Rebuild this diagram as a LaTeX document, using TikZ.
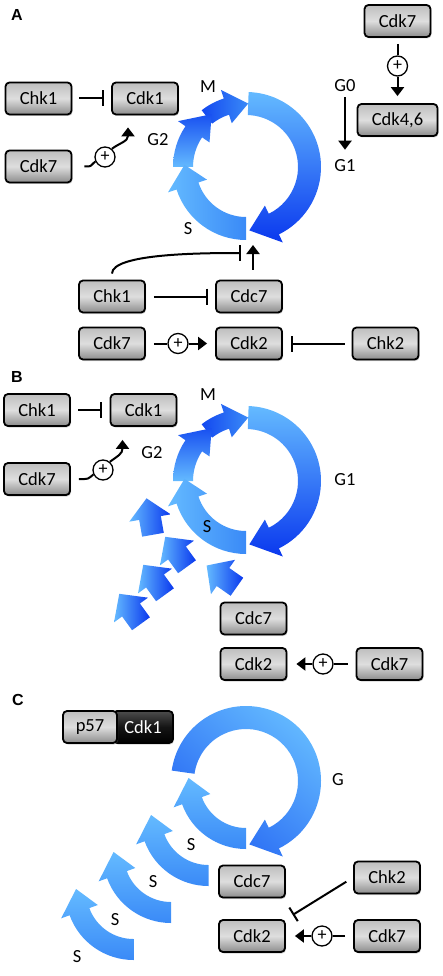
\documentclass[tikz,border=0pt]{standalone}
\usepackage{fontspec}
\setmainfont{Carlito}
\newfontfamily\panelfont{Liberation Sans}
\usetikzlibrary{arrows.meta,shadows}

\definecolor{cycLight}{RGB}{100,186,255}
\definecolor{cycMid}{RGB}{58,138,247}
\definecolor{cycDark}{RGB}{10,56,238}
\definecolor{boxTop}{RGB}{190,190,190}
\definecolor{boxMid}{RGB}{222,222,222}
\definecolor{boxBot}{RGB}{140,140,140}

\newcommand{\boxfont}{\fontsize{18.5}{20}\selectfont}

% curved block arrow of the cycle
\newcommand{\cycarrow}[6]{%
  \shade[#1] (#2:#6) arc[start angle=#2, end angle=#3, radius=#6]
    -- ({#3}:{#6+9}) -- ({#4}:{(#5+#6)/2}) -- ({#3}:{#5-9})
    -- (#3:#5) arc[start angle=#3, end angle=#2, radius=#5] -- cycle;}

% broken piece of the S arrow
\newcommand{\shard}[3]{%
  \shade[shift={(#1,#2)}, rotate=#3, left color=cycLight, right color=cycDark]
    (0,-20) -- (21,0) -- (11,0) -- (11,17) -- (-11,17) -- (-11,0) -- (-21,0) -- cycle;}

\tikzset{
  prot/.style={draw=black, line width=1.8pt, rounded corners=4pt,
    minimum width=66pt, minimum height=32pt, inner sep=0pt,
    top color=boxTop, bottom color=boxBot, middle color=boxMid, font=\boxfont,
    drop shadow={shadow xshift=1pt, shadow yshift=-1.5pt, opacity=0.35}},
  darkprot/.style={prot, top color=black!70, bottom color=black, middle color=black!92, text=white},
  plus/.style={circle, draw, line width=1.3pt, fill=white, minimum size=20pt,
    inner sep=0pt, font=\fontsize{18}{18}\selectfont},
  lbl/.style={inner sep=1pt, font=\boxfont},
  panel/.style={inner sep=0pt, font=\panelfont\bfseries\fontsize{16}{18}\selectfont},
  link/.style={line width=2pt},
  act/.style={link, -{Triangle[width=13pt,length=9pt]}},
  inhib/.style={link, -{Bar[width=16pt]}},
}

\begin{document}
\begin{tikzpicture}[x=1pt, y=-1pt]
\useasboundingbox (0,0) rectangle (443,976);

% A
\node[panel] (tagA) at (17,15) {A};
\begin{scope}[shift={(246,167)}]
  \cycarrow{top color=cycLight, bottom color=cycDark}{-88}{64}{87}{52}{75}
  \cycarrow{left color=cycDark!80!cycMid, right color=cycMid}{232}{252}{272}{55}{72}
  \cycarrow{top color=cycDark!70!cycMid, bottom color=cycLight}{180}{214}{237}{53}{73}
  \cycarrow{left color=cycLight, right color=cycMid}{90}{162}{182}{50}{73}
\end{scope}
\node[lbl] (mA) at (208,87) {M};
\node[lbl] (g2A) at (158,140) {G2};
\node[lbl] (sA) at (188,229) {S};
\node[lbl] (g0) at (345,86) {G0};
\node[lbl] (g1) at (345,166) {G1};

\node[prot] (chkA) at (38.5,98.5) {Chk1};
\node[prot] (cdk1A) at (145,98.5) {Cdk1};
\node[prot] (cdk7A) at (38.5,166.5) {Cdk7};
\node[plus] (plusA) at (105,157) {+};
\node[prot] (cdk7TR) at (397.5,21) {Cdk7};
\node[plus] (plusTR) at (397.5,66) {+};
\node[prot, minimum width=80pt] (cdk46) at (397.5,120) {Cdk4,6};

\node[prot] (chk1D) at (112,296.5) {Chk1};
\node[prot] (cdc7A) at (249,296.5) {Cdc7};
\node[prot] (cdk7D) at (112,343.5) {Cdk7};
\node[plus] (plusD) at (178,343.5) {+};
\node[prot] (cdk2A) at (249,343.5) {Cdk2};
\node[prot] (chk2A) at (385.5,343.5) {Chk2};
\coordinate (entryA) at (253,245);
\coordinate (blockA) at (241,253);

\draw[inhib, shorten <=7pt, shorten >=7pt] (chkA) -- (cdk1A);
\draw[link, shorten <=12pt] (cdk7A.east) .. controls +(20,0) and +(-6,5) .. (plusA.205);
\draw[act] (plusA.50) .. controls +(8,-6) and +(0,14) .. ([shift={(-17,12)}]cdk1A.south);
\draw[link, shorten <=6pt] (cdk7TR) -- (plusTR);
\draw[act, shorten >=7pt] (plusTR) -- (cdk46);
\draw[act, shorten <=4pt, shorten >=9pt] (g0) -- (g1);
\draw[inhib, shorten <=8pt, shorten >=7pt] (chk1D) -- (cdc7A);
\draw[link, shorten <=8pt] (cdk7D) -- (plusD);
\draw[act, shorten >=8pt] (plusD) -- (cdk2A);
\draw[inhib, shorten <=7pt, shorten >=8pt] (chk2A) -- (cdk2A);
\draw[act, shorten <=10pt] (cdc7A.north -| entryA) -- (entryA);
\draw[inhib, shorten <=6pt] (chk1D.north) .. controls +(0,-26) and +(-40,0) .. (blockA);

% B
\node[panel] (tagB) at (17,377) {B};
\begin{scope}[shift={(246,481)}]
  \cycarrow{top color=cycLight, bottom color=cycDark}{-88}{64}{87}{52}{75}
  \cycarrow{left color=cycDark!80!cycMid, right color=cycMid}{232}{252}{272}{55}{72}
  \cycarrow{top color=cycDark!70!cycMid, bottom color=cycLight}{180}{214}{237}{53}{73}
  \cycarrow{left color=cycLight, right color=cycMid}{90}{162}{182}{50}{73}
\end{scope}
\shard{150}{518}{10}
\shard{177}{553}{36}
\shard{155}{581}{36}
\shard{131}{610}{36}
\shard{223}{577}{55}
\node[lbl] (mB) at (208,395) {M};
\node[lbl] (g2B) at (152,453) {G2};
\node[lbl] (g1B) at (345,480) {G1};
\node[lbl] (sB) at (207,527) {S};

\node[prot] (chkB) at (37,410) {Chk1};
\node[prot] (cdk1B) at (143.5,410) {Cdk1};
\node[prot] (cdk7B) at (37,479) {Cdk7};
\node[plus] (plusB) at (103,470) {+};
\node[prot] (cdc7B) at (253.5,618.5) {Cdc7};
\node[prot] (cdk2B) at (253.5,664) {Cdk2};
\node[plus] (plusBr) at (323,664) {+};
\node[prot] (cdk7Br) at (389.5,664) {Cdk7};

\draw[inhib, shorten <=7.5pt, shorten >=8pt] (chkB) -- (cdk1B);
\draw[link, shorten <=8pt] (cdk7B.east) .. controls +(18,0) and +(-6,5) .. (plusB.205);
\draw[act] (plusB.50) .. controls +(8,-6) and +(0,14) .. ([shift={(-21,13)}]cdk1B.south);
\draw[link, shorten <=8pt] (cdk7Br) -- (plusBr);
\draw[act, shorten >=9pt] (plusBr) -- (cdk2B);

% C
\node[panel] (tagC) at (18,700) {C};
\begin{scope}[shift={(246,781)}]
  \foreach \k in {3,2,1}{
    \begin{scope}[shift={(-37.5*\k,37*\k)}]
      \cycarrow{top color=cycLight, bottom color=cycMid}{90}{160}{183}{47}{68}
    \end{scope}
  }
  \cycarrow{top color=cycLight, bottom color=cycMid!55!cycDark, shading angle=-40}{-172}{64}{87}{52}{75}
  \cycarrow{top color=cycLight, bottom color=cycMid}{90}{160}{183}{47}{68}
\end{scope}
\node[lbl] (gC) at (338,780) {G};
\node[lbl] (sC1) at (191,845) {S};
\node[lbl] (sC2) at (153,882) {S};
\node[lbl] (sC3) at (115,920) {S};
\node[lbl] (sC4) at (77,957) {S};

\node[darkprot, minimum width=60pt] (cdk1C) at (143,727) {Cdk1};
\node[prot, minimum width=54pt] (p57) at (90,727) {p57};
\node[prot] (cdc7C) at (252,881.5) {Cdc7};
\node[prot] (chk2C) at (387,877.5) {Chk2};
\node[prot] (cdk2C) at (252,936) {Cdk2};
\node[plus] (plusC) at (322,936) {+};
\node[prot] (cdk7C) at (387,936) {Cdk7};

\draw[inhib, shorten <=8pt, shorten >=8pt] (chk2C.west) -- (cdk2C.north east);
\draw[link, shorten <=8pt] (cdk7C) -- (plusC);
\draw[act, shorten >=9pt] (plusC) -- (cdk2C);
\end{tikzpicture}
\end{document}
